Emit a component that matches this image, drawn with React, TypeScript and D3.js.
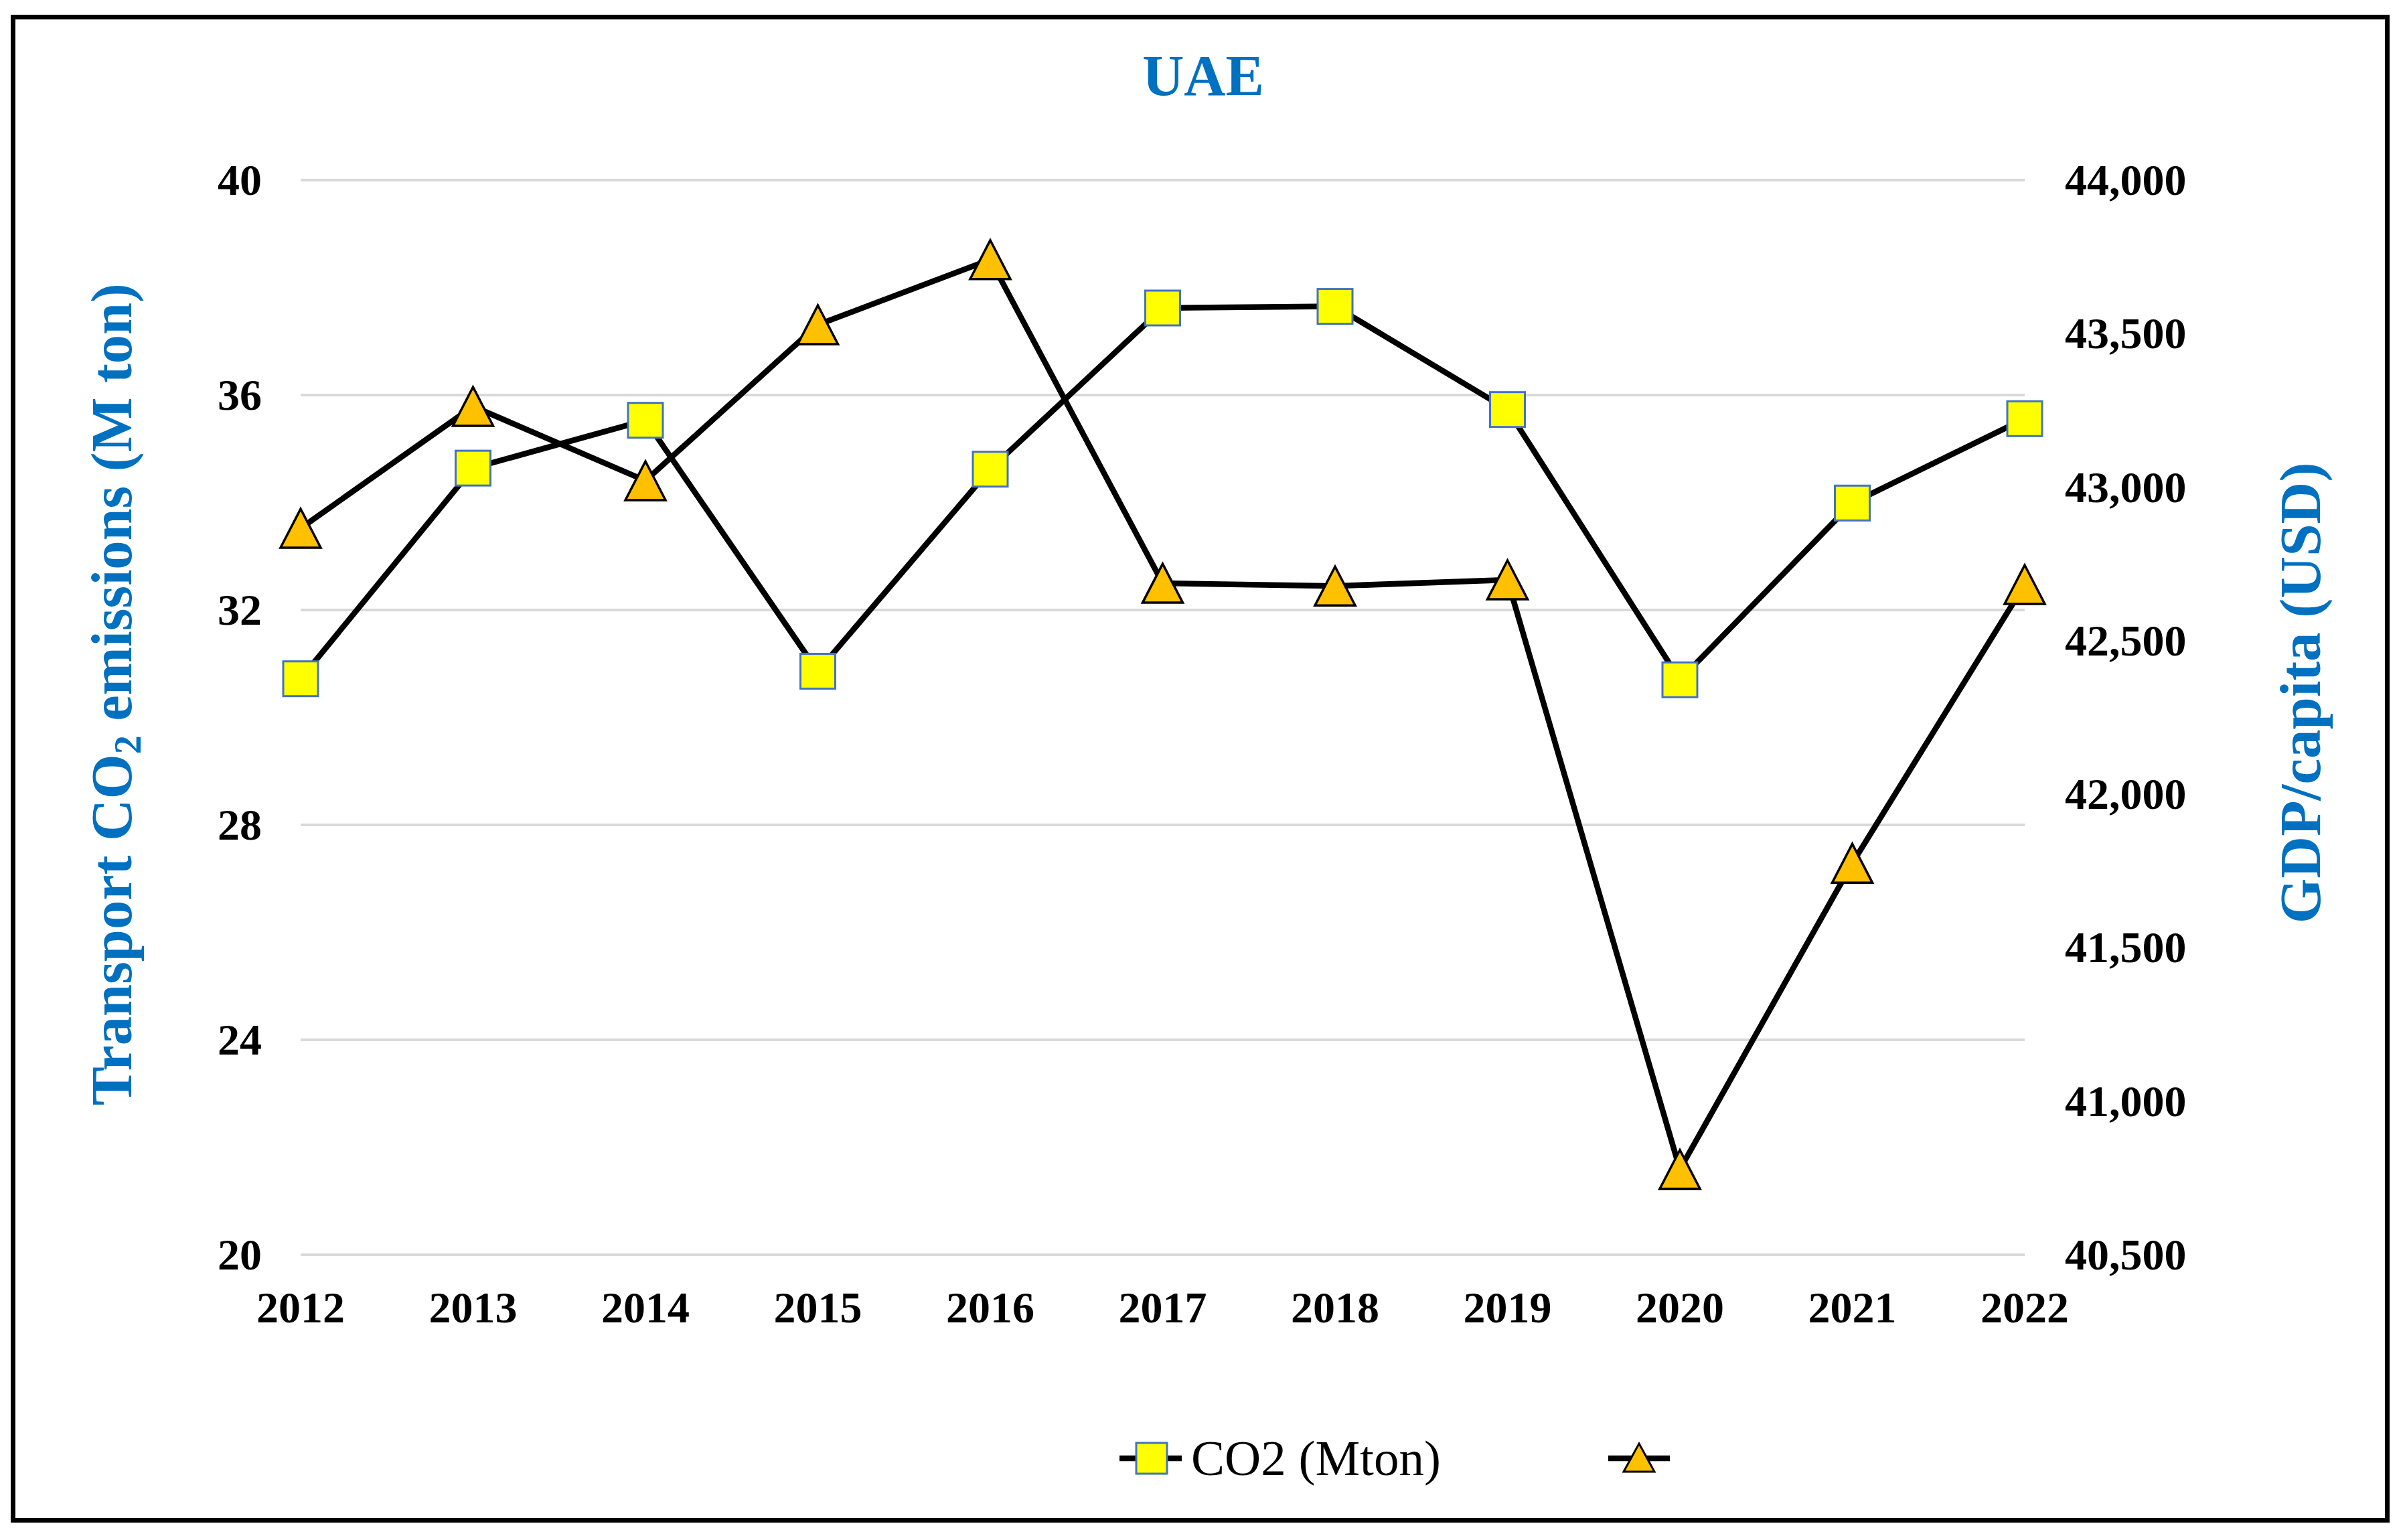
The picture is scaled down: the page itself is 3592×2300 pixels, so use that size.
import * as d3 from "d3";

const WIDTH = 3592;
const HEIGHT = 2300;
const FONT = "'Times New Roman', 'Liberation Serif', serif";
const BLUE = "#0070C0";

const years = ["2012", "2013", "2014", "2015", "2016", "2017", "2018", "2019", "2020", "2021", "2022"];
const co2Mton = [30.72, 34.64, 35.53, 30.86, 34.62, 37.62, 37.65, 35.73, 30.7, 33.99, 35.56];
const gdpPerCapita = [42866, 43263, 43021, 43529, 43741, 42687, 42678, 42698, 40778, 41775, 42683];
const leftTicks = [20, 24, 28, 32, 36, 40];
const rightTicks = [40500, 41000, 41500, 42000, 42500, 43000, 43500, 44000];

const PLOT_LEFT = 449;
const PLOT_RIGHT = 3024;
const PLOT_TOP = 269;
const PLOT_BOTTOM = 1874;

const x = d3.scalePoint<string>().domain(years).range([PLOT_LEFT, PLOT_RIGHT]);
const yLeft = d3.scaleLinear().domain([20, 40]).range([PLOT_BOTTOM, PLOT_TOP]);
const yRight = d3.scaleLinear().domain([40500, 44000]).range([PLOT_BOTTOM, PLOT_TOP]);
const fmt = d3.format(",");

const SQ = 52;
const TRI_W = 60;
const TRI_H = 58;
const triPath = (w: number, h: number) => `M0,${-h / 2}L${w / 2},${h / 2}L${-w / 2},${h / 2}Z`;

export default function App() {
  const co2Line = d3
    .line<number>()
    .x((_, i) => x(years[i])!)
    .y((d) => yLeft(d))(co2Mton);
  const gdpLine = d3
    .line<number>()
    .x((_, i) => x(years[i])!)
    .y((d) => yRight(d))(gdpPerCapita);

  return (
    <svg
      width={WIDTH}
      height={HEIGHT}
      style={{ position: "absolute", left: 0, top: 0, background: "#fff" }}
      fontFamily={FONT}
    >
      <rect x={0} y={0} width={WIDTH} height={HEIGHT} fill="#fff" />
      <rect x={19.5} y={25.5} width={3546} height={2245} fill="none" stroke="#000" strokeWidth={7} />

      <text x={1797} y={142} textAnchor="middle" fontSize={86} fontWeight="bold" fill={BLUE}>
        UAE
      </text>

      {/* gridlines */}
      {leftTicks.map((t) => (
        <line key={t} x1={PLOT_LEFT} x2={PLOT_RIGHT} y1={yLeft(t)} y2={yLeft(t)} stroke="#D9D9D9" strokeWidth={4} />
      ))}

      {/* left axis labels */}
      {leftTicks.map((t) => (
        <text key={t} x={391} y={yLeft(t) + 22} textAnchor="end" fontSize={66} fontWeight="bold" fill="#000">
          {t}
        </text>
      ))}

      {/* right axis labels */}
      {rightTicks.map((t) => (
        <text key={t} x={3084} y={yRight(t) + 22} textAnchor="start" fontSize={66} fontWeight="bold" fill="#000">
          {fmt(t)}
        </text>
      ))}

      {/* x labels */}
      {years.map((yr) => (
        <text key={yr} x={x(yr)} y={1975} textAnchor="middle" fontSize={66} fontWeight="bold" fill="#000">
          {yr}
        </text>
      ))}

      {/* axis titles */}
      <text
        transform={`translate(196,1037) rotate(-90)`}
        textAnchor="middle"
        fontSize={86.5}
        fontWeight="bold"
        fill={BLUE}
      >
        Transport CO
        <tspan fontSize={56} dy={14}>2</tspan>
        <tspan dy={-14}> emissions (M ton)</tspan>
      </text>
      <text
        transform={`translate(3465,1035) rotate(-90)`}
        textAnchor="middle"
        fontSize={87}
        fontWeight="bold"
        fill={BLUE}
      >
        GDP/capita (USD)
      </text>

      {/* CO2 series */}
      <path d={co2Line || ""} fill="none" stroke="#000" strokeWidth={8.5} strokeLinejoin="round" />
      {co2Mton.map((v, i) => (
        <rect
          key={years[i]}
          x={x(years[i])! - SQ / 2}
          y={yLeft(v) - SQ / 2}
          width={SQ}
          height={SQ}
          fill="#FFFF00"
          stroke="#4472C4"
          strokeWidth={3}
        />
      ))}

      {/* GDP series */}
      <path d={gdpLine || ""} fill="none" stroke="#000" strokeWidth={8.5} strokeLinejoin="round" />
      {gdpPerCapita.map((v, i) => (
        <path
          key={years[i]}
          d={triPath(TRI_W, TRI_H)}
          transform={`translate(${x(years[i])},${yRight(v)})`}
          fill="#FFC000"
          stroke="#000"
          strokeWidth={3.5}
          strokeLinejoin="miter"
        />
      ))}

      {/* legend */}
      <g>
        <line x1={1672} x2={1765} y1={2178} y2={2178} stroke="#000" strokeWidth={8.5} />
        <rect x={1720 - 23} y={2178 - 23} width={46} height={46} fill="#FFFF00" stroke="#4472C4" strokeWidth={3} />
        <text x={1779} y={2203} fontSize={75} fill="#000">
          CO2 (Mton)
        </text>
        <line x1={2402} x2={2494} y1={2178} y2={2178} stroke="#000" strokeWidth={8.5} />
        <path d={triPath(46, 42)} transform="translate(2448,2177)" fill="#FFC000" stroke="#000" strokeWidth={3} />
      </g>
    </svg>
  );
}
